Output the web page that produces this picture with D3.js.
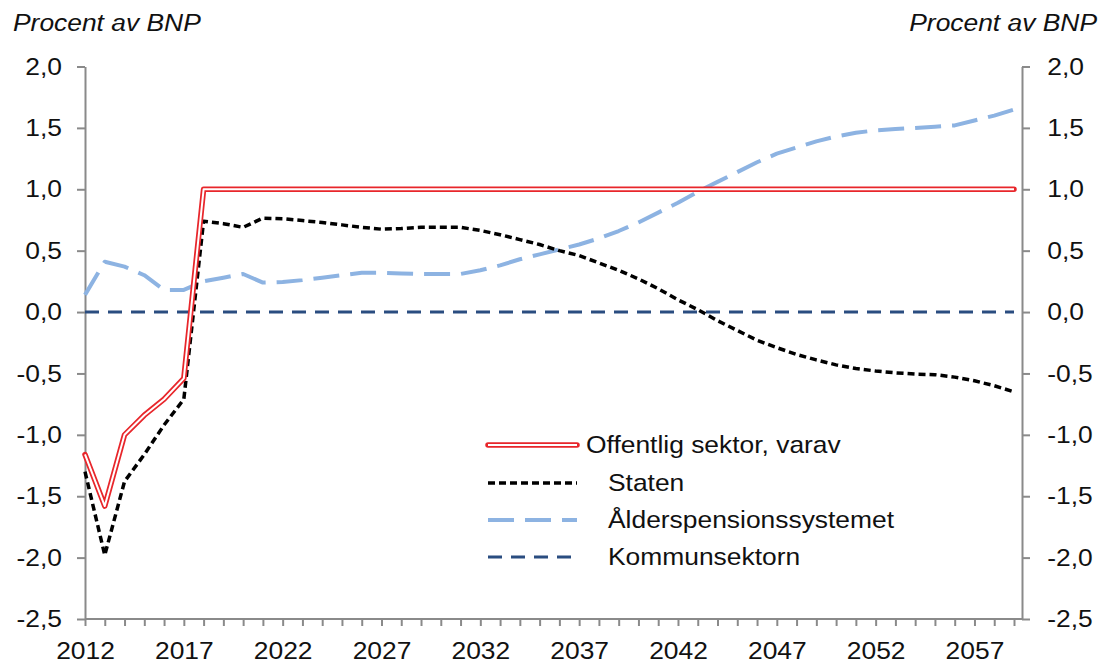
<!DOCTYPE html>
<html>
<head>
<meta charset="utf-8">
<script src="https://d3js.org/d3.v7.min.js"></script>
<style>
  body { margin: 0; background: #fff; }
  text { font-family: "Liberation Sans", Arial, sans-serif; fill: #111; }
</style>
</head>
<body>
<div id="line_graph"></div>
<script>
// years on the category axis
var years = d3.range(2012, 2060);

// series values, percent of GDP
var offentlig = [-1.16, -1.58, -1.00, -0.84, -0.71, -0.54,
    1.0, 1.0, 1.0, 1.0, 1.0, 1.0, 1.0, 1.0, 1.0, 1.0, 1.0, 1.0, 1.0, 1.0, 1.0,
    1.0, 1.0, 1.0, 1.0, 1.0, 1.0, 1.0, 1.0, 1.0, 1.0, 1.0, 1.0, 1.0, 1.0, 1.0,
    1.0, 1.0, 1.0, 1.0, 1.0, 1.0, 1.0, 1.0, 1.0, 1.0, 1.0, 1.0];
var staten = [-1.30, -1.98, -1.38, -1.16, -0.92, -0.71,
    0.74, 0.72, 0.69, 0.765, 0.76, 0.745, 0.73, 0.71, 0.69, 0.675, 0.68, 0.69, 0.69, 0.69,
    0.665, 0.63, 0.59, 0.55, 0.50, 0.46, 0.40, 0.34, 0.27, 0.19, 0.10, 0.02,
    -0.07, -0.15, -0.23, -0.29, -0.345, -0.39, -0.43, -0.46, -0.48, -0.495,
    -0.505, -0.51, -0.53, -0.56, -0.60, -0.65];
var alders = [0.14, 0.41, 0.37, 0.30, 0.18, 0.18,
    0.25, 0.28, 0.31, 0.24, 0.245, 0.26, 0.28, 0.30, 0.32, 0.32, 0.315, 0.31, 0.31, 0.31,
    0.34, 0.38, 0.43, 0.47, 0.51, 0.55, 0.60, 0.66, 0.73, 0.81, 0.89, 0.98,
    1.06, 1.14, 1.22, 1.29, 1.34, 1.39, 1.43, 1.46, 1.48, 1.49,
    1.50, 1.51, 1.52, 1.56, 1.60, 1.65];
var kommun = years.map(function () { return 0; });

// tick labels
var yTicks = [2.0, 1.5, 1.0, 0.5, 0.0, -0.5, -1.0, -1.5, -2.0, -2.5];
var xLabelYears = [2012, 2017, 2022, 2027, 2032, 2037, 2042, 2047, 2052, 2057];
var axisTitle = "Procent av BNP";
var legendNames = ["Offentlig sektor, varav", "Staten", "Ålderspensionssystemet", "Kommunsektorn"];

function DrawChart() {
    var W = 1100, H = 666;
    var plot = { left: 85, right: 1022, top: 66.5, bottom: 619 };
    var sx = 1.1; // text in the picture is a bit wider than plain Arial

    var svg = d3.select("#line_graph")
        .append("svg")
        .attr("width", W)
        .attr("height", H);

    var x = d3.scaleLinear()
        .domain([2012, 2059])
        .range([plot.left, 1014]);

    var y = d3.scaleLinear()
        .domain([-2.5, 2.0])
        .range([plot.bottom, plot.top]);

    var fmt = function (d) { return d3.format(".1f")(d).replace(".", ",").replace("−", "-"); };

    function styleAxis(g) {
        g.selectAll("path, line").attr("stroke", "#8a8a8a").attr("stroke-width", 2);
        g.selectAll("text")
            .attr("font-size", 24)
            .attr("fill", "#111")
            .attr("font-family", "Liberation Sans, Arial, sans-serif")
            .attr("transform", "scale(" + sx + ",1)");
    }

    // Left Y axis
    var gl = svg.append("g")
        .attr("transform", "translate(" + plot.left + ",0)")
        .call(d3.axisLeft(y).tickValues(yTicks).tickFormat(fmt).tickSizeInner(8).tickSizeOuter(0).tickPadding(13));
    styleAxis(gl);

    // Right Y axis
    var gr = svg.append("g")
        .attr("transform", "translate(" + plot.right + ",0)")
        .call(d3.axisRight(y).tickValues(yTicks).tickFormat(fmt).tickSizeInner(8).tickSizeOuter(0).tickPadding(15));
    styleAxis(gr);

    // X axis, a tick every year and a label every fifth
    var gx = svg.append("g")
        .attr("transform", "translate(0," + plot.bottom + ")")
        .call(d3.axisBottom(x).tickValues(years)
            .tickFormat(function (d) { return xLabelYears.indexOf(d) >= 0 ? d : ""; })
            .tickSizeInner(7).tickSizeOuter(0).tickPadding(16));
    styleAxis(gx);
    gx.select(".domain").attr("d", "M" + plot.left + ",0H" + plot.right);

    // axis titles
    svg.append("text")
        .attr("transform", "translate(13,31) scale(" + sx + ",1)")
        .attr("font-size", 24)
        .attr("font-style", "italic")
        .text(axisTitle);
    svg.append("text")
        .attr("transform", "translate(1097,31) scale(" + sx + ",1)")
        .attr("text-anchor", "end")
        .attr("font-size", 24)
        .attr("font-style", "italic")
        .text(axisTitle);

    var line = d3.line()
        .x(function (d, i) { return x(years[i]); })
        .y(function (d) { return y(d); });

    // series styles
    var series = [
        { data: kommun, stroke: "#2a4d80", width: 3, dash: "14,9" },
        { data: alders, stroke: "#8db3e2", width: 4, dash: "26,11" },
        { data: staten, stroke: "#000", width: 3.5, dash: "7,4" }
    ];

    series.forEach(function (s) {
        svg.append("path")
            .datum(s.data)
            .attr("fill", "none")
            .attr("stroke", s.stroke)
            .attr("stroke-width", s.width)
            .attr("stroke-dasharray", s.dash)
            .attr("stroke-linejoin", "round")
            .attr("d", line);
    });

    // double red line for offentlig sektor
    svg.append("path")
        .datum(offentlig)
        .attr("fill", "none")
        .attr("stroke", "#e8262b")
        .attr("stroke-width", 5.5)
        .attr("stroke-linejoin", "round")
        .attr("stroke-linecap", "round")
        .attr("d", line);
    svg.append("path")
        .datum(offentlig)
        .attr("fill", "none")
        .attr("stroke", "#fff")
        .attr("stroke-width", 2)
        .attr("stroke-linejoin", "round")
        .attr("d", line);

    // Legend
    var legendRows = [
        { y: 445, tx: 586 },
        { y: 483, tx: 608 },
        { y: 520, tx: 608 },
        { y: 557, tx: 608 }
    ];
    var legendStyle = [null, series[2], series[1], series[0]];
    legendRows.forEach(function (r, i) {
        if (i === 0) {
            svg.append("line").attr("x1", 488).attr("x2", 577).attr("y1", r.y).attr("y2", r.y)
                .attr("stroke", "#e8262b").attr("stroke-width", 5.5).attr("stroke-linecap", "round");
            svg.append("line").attr("x1", 488).attr("x2", 577).attr("y1", r.y).attr("y2", r.y)
                .attr("stroke", "#fff").attr("stroke-width", 2);
        } else {
            var s = legendStyle[i];
            svg.append("line").attr("x1", 488).attr("x2", 577).attr("y1", r.y).attr("y2", r.y)
                .attr("stroke", s.stroke).attr("stroke-width", s.width).attr("stroke-dasharray", s.dash);
        }
        svg.append("text")
            .attr("transform", "translate(" + r.tx + "," + (r.y + 8) + ") scale(" + sx + ",1)")
            .attr("font-size", 24)
            .text(legendNames[i]);
    });
}

DrawChart();
</script>
</body>
</html>
